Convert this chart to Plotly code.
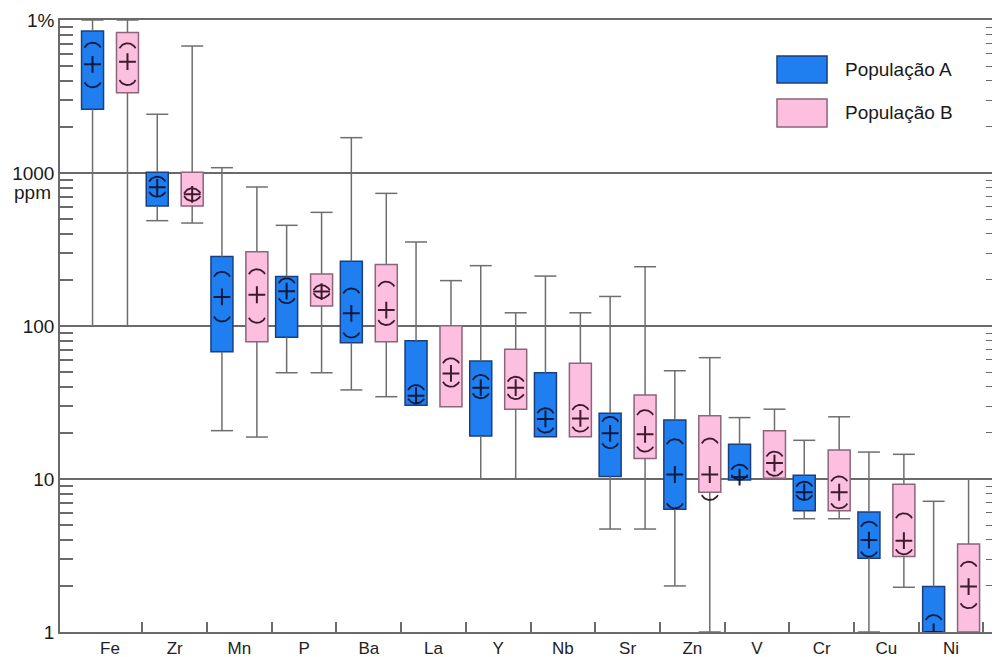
import numpy as np
import plotly.graph_objects as go

# Elements along the x axis
elements = ["Fe", "Zr", "Mn", "P", "Ba", "La", "Y", "Nb", "Sr", "Zn", "V", "Cr", "Cu", "Ni"]

# Population A (ppm): whisker ends, quartiles, central value and confidence arcs
a_min = [100, 488, 20.7, 49.5, 38.2, 30.3, 10, 18.9, 4.71, 2.0, 9.85, 5.5, 1.0, 1.0]
a_q1 = [2610, 608, 68, 84.4, 77.8, 30.3, 19.1, 18.9, 10.4, 6.34, 9.85, 6.2, 3.03, 1.0]
a_mid = [5130, 806, 155, 169, 121, 35, 39.5, 24.7, 19.9, 10.7, 10.3, 8.19, 3.99, 1.0]
a_q3 = [8480, 1010, 285, 211, 265, 80.2, 59, 49.5, 26.9, 24.3, 16.9, 10.6, 6.09, 1.98]
a_max = [10000, 2420, 1083, 455, 1702, 354, 248, 212, 156, 51, 25.2, 17.9, 15.0, 7.15]
a_ci_lo = [3630, 700, 107, 141, 84, 31.2, 33.7, 20.1, 15.9, 6.43, 9.9, 7.3, 3.11, 0.78]
a_ci_hi = [7110, 946, 226, 205, 176, 41.1, 47.9, 29, 25.5, 18.2, 12.4, 9.6, 5.26, 1.29]

# Population B (ppm)
b_min = [100, 471, 18.8, 49.5, 34.5, 29.7, 10, 18.9, 4.71, 1.0, 10.1, 5.5, 1.96, 1.0]
b_q1 = [3350, 608, 79, 135, 79, 29.7, 28.6, 18.9, 13.6, 8.19, 10.1, 6.2, 3.11, 1.0]
b_mid = [5340, 726, 160, 168, 127, 49, 39.5, 24.9, 19.6, 10.7, 12.7, 8.19, 3.95, 1.98]
b_q3 = [8300, 1010, 306, 219, 252, 100.4, 70.4, 57, 35.4, 25.9, 20.7, 15.5, 9.23, 3.76]
b_max = [10000, 6760, 810, 553, 736, 198, 122, 122, 244, 62.1, 28.6, 25.5, 14.5, 10.0]
b_ci_lo = [3760, 656, 105, 152, 101.5, 40.1, 33.3, 20.4, 15.1, 7.29, 10.5, 6.43, 3.22, 1.43]
b_ci_hi = [7040, 794, 235, 185, 195, 61.5, 46.6, 30.5, 28.2, 18.4, 15.1, 10.4, 5.97, 2.88]

# Y axis ticks
y_tickvals = [1, 10, 100, 1000, 10000]
y_ticktext = ["1", "10", "100", "1000", "1%"]

FONT = "Liberation Sans, Arial, Helvetica, sans-serif"
GRID = "#6a6a6a"
WHISKER = "#6e6e6e"

populations = [
    dict(name="População A", offset=-0.27, fill="#1f7ff0", edge="#1c3f7c", ink="#0b1a3e",
         lo=a_min, q1=a_q1, mid=a_mid, q3=a_q3, hi=a_max, ci_lo=a_ci_lo, ci_hi=a_ci_hi),
    dict(name="População B", offset=0.27, fill="#fdbfe0", edge="#8a6677", ink="#3e1a2c",
         lo=b_min, q1=b_q1, mid=b_mid, q3=b_q3, hi=b_max, ci_lo=b_ci_lo, ci_hi=b_ci_hi),
]

BOX_W = 0.34      # box width in category units
CAP_HALF = 0.17   # half width of whisker caps
ARC_HALF = 0.125  # half width of confidence arcs
ARC_DEPTH = 0.032 # arc sag in decades

fig = go.Figure()
idx = np.arange(len(elements))

for pop in populations:
    xs = idx + pop["offset"]
    q1 = np.array(pop["q1"], dtype=float)
    q3 = np.array(pop["q3"], dtype=float)

    # Boxes: interquartile range
    fig.add_trace(go.Bar(
        x=xs, y=q3 - q1, base=q1, width=BOX_W,
        marker=dict(color=pop["fill"], line=dict(color=pop["edge"], width=1.5)),
        name=pop["name"], showlegend=False, hoverinfo="skip",
    ))

    # Whiskers with caps
    wx, wy = [], []
    for x, lo, a, b, hi in zip(xs, pop["lo"], pop["q1"], pop["q3"], pop["hi"]):
        if hi > b:
            wx += [x, x, None, x - CAP_HALF, x + CAP_HALF, None]
            wy += [b, hi, None, hi, hi, None]
        if lo < a:
            wx += [x, x, None, x - CAP_HALF, x + CAP_HALF, None]
            wy += [a, lo, None, lo, lo, None]
    fig.add_trace(go.Scatter(
        x=wx, y=wy, mode="lines", line=dict(color=WHISKER, width=1.5),
        showlegend=False, hoverinfo="skip",
    ))

    # Confidence arcs around the central value (circular segments)
    t = np.linspace(-1, 1, 25)
    sag = 1 - np.sqrt(1 - 0.8 * t ** 2)
    sag = sag / sag.max()
    ax, ay = [], []
    for x, lo, hi in zip(xs, pop["ci_lo"], pop["ci_hi"]):
        ax += list(x + t * ARC_HALF) + [None]
        ay += list(hi * 10 ** (-ARC_DEPTH * sag)) + [None]
        ax += list(x + t * ARC_HALF) + [None]
        ay += list(lo * 10 ** (ARC_DEPTH * sag)) + [None]
    fig.add_trace(go.Scatter(
        x=ax, y=ay, mode="lines", line=dict(color=pop["ink"], width=1.8),
        showlegend=False, hoverinfo="skip",
    ))

    # Central value marker
    fig.add_trace(go.Scatter(
        x=xs, y=pop["mid"], mode="markers",
        marker=dict(symbol="cross-thin", size=12, line=dict(color=pop["ink"], width=2)),
        showlegend=False, hoverinfo="skip",
    ))

# Invisible trace carrying the right-hand tick axis
fig.add_trace(go.Scatter(x=[None], y=[None], yaxis="y2", showlegend=False, hoverinfo="skip"))

minor_vals = [m * 10 ** d for d in range(4) for m in range(2, 10)]

fig.update_layout(
    width=992, height=657,
    margin=dict(l=60, r=0, t=20, b=25),
    paper_bgcolor="white", plot_bgcolor="white",
    barmode="overlay",
    font=dict(family=FONT, color="#1a1a1a"),
    xaxis=dict(
        range=[-0.773, 13.632], tickmode="array", automargin=False,
        tickvals=list(idx), ticktext=elements, ticks="",
        tickfont=dict(size=17, color="#222"),
        showgrid=False, zeroline=False,
        showline=True, linecolor=GRID, linewidth=1.5, mirror=True,
        minor=dict(tickmode="array", tickvals=list(idx + 0.5), ticks="inside",
                   ticklen=10, tickwidth=1.5, tickcolor=GRID, showgrid=False),
    ),
    yaxis=dict(
        type="log", range=[0, 4], tickmode="array", automargin=False,
        tickvals=y_tickvals, ticktext=y_ticktext, ticks="",
        tickfont=dict(size=19, color="#1a1a1a"),
        showgrid=True, gridcolor=GRID, gridwidth=1.5, zeroline=False,
        showline=True, linecolor=GRID, linewidth=1.5,
        minor=dict(tickmode="array", tickvals=minor_vals, ticks="inside",
                   ticklen=13, tickwidth=1.5, tickcolor=GRID, showgrid=False),
    ),
    yaxis2=dict(
        type="log", range=[0, 4], overlaying="y", side="right", anchor="x",
        automargin=False,
        showticklabels=False, ticks="", showgrid=False, zeroline=False, showline=False,
        minor=dict(tickmode="array", tickvals=minor_vals, ticks="inside",
                   ticklen=6, tickwidth=1.2, tickcolor=GRID, showgrid=False),
    ),
    showlegend=False,
)

# Unit under the 1000 label
fig.add_annotation(x=0, xref="paper", xanchor="right", xshift=-7,
                   y=3, yref="y", yshift=-19, text="ppm", showarrow=False,
                   font=dict(size=19, family=FONT, color="#1a1a1a"))

# Legend swatches and labels
legend_rows = [(0.9412, 0.8971, populations[0]), (0.8709, 0.8252, populations[1])]
for y1, y0, pop in legend_rows:
    fig.add_shape(type="rect", xref="paper", yref="paper",
                  x0=0.7693, x1=0.8230, y0=y0, y1=y1,
                  fillcolor=pop["fill"], line=dict(color=pop["edge"], width=1.5))
    fig.add_annotation(x=0.8401, xref="paper", xanchor="left",
                       y=(y0 + y1) / 2, yref="paper", yanchor="middle",
                       text=pop["name"], showarrow=False,
                       font=dict(size=19, family=FONT, color="#1a1a1a"))

fig.write_html("out.html")
